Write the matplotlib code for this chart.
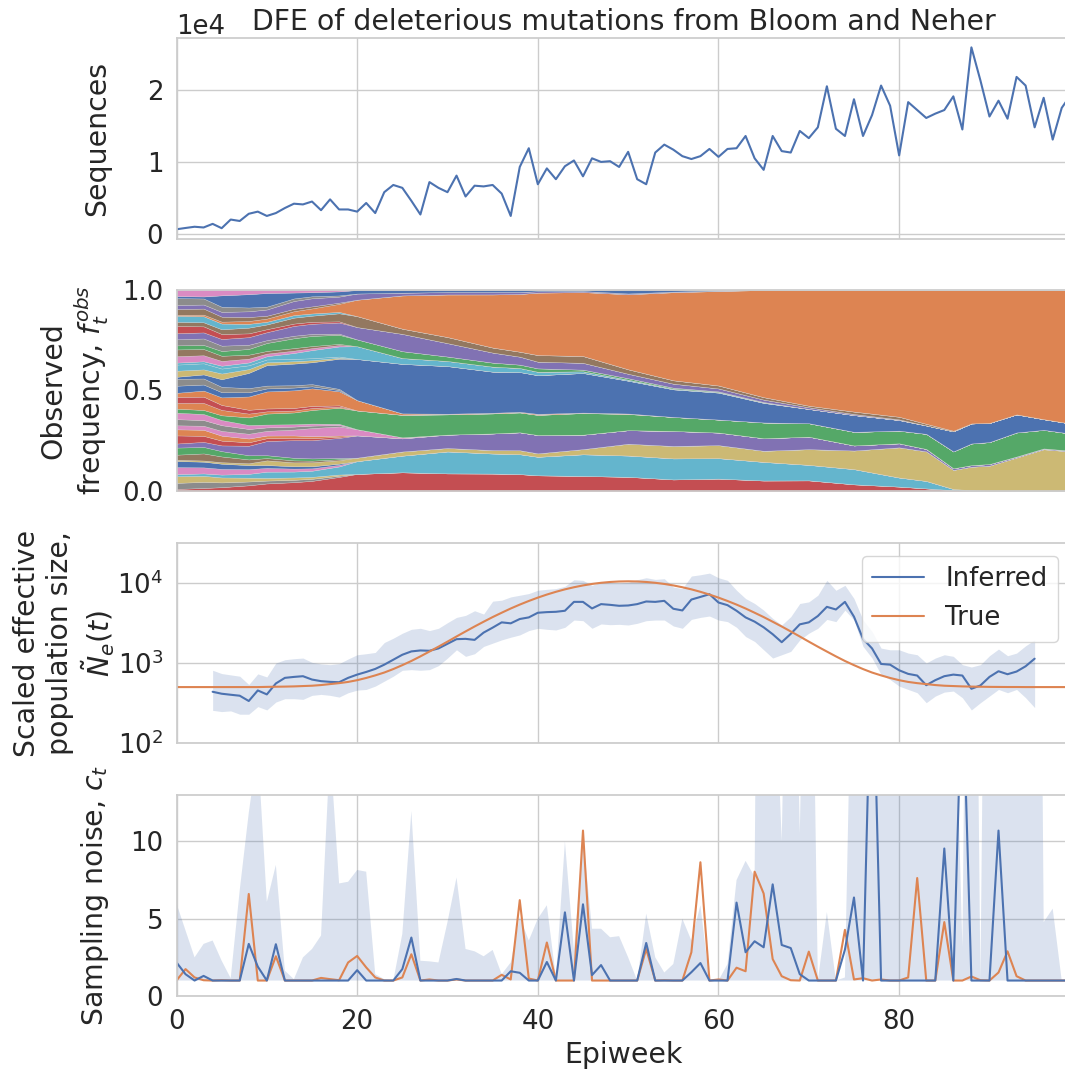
import numpy as np
import matplotlib
matplotlib.use("Agg")
import matplotlib.pyplot as plt
import seaborn as sns

sns.set_theme(style="whitegrid", font_scale=1.7)
plt.rcParams["font.family"] = ["DejaVu Sans"]

# ---------------- data ----------------
weeks = np.arange(100)

sequences = [650, 830, 1000, 900, 1400, 800, 2000, 1800, 2800, 3100,
             2500, 2900, 3600, 4200, 4100, 4500, 3300, 4800, 3400, 3400,
             3100, 4300, 2900, 5800, 6800, 6400, 4600, 2700, 7200, 6400,
             5800, 8100, 5200, 6700, 6600, 6800, 5600, 2500, 9300, 11900,
             6900, 9100, 7600, 9400, 10200, 8000, 10500, 10000, 10100, 9300,
             11400, 7600, 6900, 11300, 12400, 11700, 10800, 10400, 10800, 11800,
             10700, 11800, 11900, 13600, 10500, 8900, 13600, 11500, 11300, 14300,
             13300, 14800, 20500, 14600, 13600, 18700, 13600, 16500, 20600, 17800,
             10900, 18300, 17200, 16100, 16700, 17200, 19100, 14500, 25900, 21300,
             16300, 18500, 16000, 21800, 20600, 14800, 18900, 13100, 17500, 19300]

# lineage frequencies (sampled weeks), bottom to top
freq_weeks = [0, 3, 5, 8, 10, 13, 15, 18, 20, 25, 30, 35, 38, 40, 45, 50, 55, 60,
              65, 70, 75, 80, 83, 86, 88, 90, 93, 96, 99]
lin_red = [.01, .015, .02, .03, .04, .045, .05, .07, .083, .09, .087, .087, .085, .078, .073,
           .07, .058, .063, .052, .053, .033, .022, .013, .004, .002, .001, .002, .002, .002]
lin_cyan = [.01, .012, .015, .02, .033, .03, .03, .04, .062, .08, .108, .10, .10, .092, .105,
            .105, .105, .104, .092, .077, .075, .045, .037, .006, .002, 0, 0, 0, 0]
lin_olive = [.006, .006, .008, .01, .025, .02, .02, .017, .017, .02, .017, .017, .02, .017, .025,
             .058, .062, .066, .055, .078, .092, .15, .147, .095, .117, .125, .165, .205, .195]
lin_purple = [.02, .025, .03, .05, .075, .09, .09, .1, .108, .063, .066, .083, .09, .091, .07,
              .067, .075, .064, .062, .062, .025, .02, .012, .008, .008, .008, .005, .004, .004]
lin_pink = [.02, .02, .025, .025, .025, .03, .04, .045, .03, .005, 0, 0, 0, 0, 0,
            0, 0, 0, 0, 0, 0, 0, 0, 0, 0, 0, 0, 0, 0]
lin_green = [.02, .02, .025, .04, .058, .06, .067, .08, .091, .108, .10, .10, .10, .10, .105,
             .08, .07, .066, .078, .067, .067, .063, .075, .084, .108, .109, .12, .092, .085]
lin_orange2 = [.02, .03, .04, .07, .09, .09, .087, .07, .05, .007, .003, .003, .003, .005, .002,
               .002, 0, 0, 0, 0, 0, 0, 0, 0, 0, 0, 0, 0, 0]
lin_blue = [.01, .02, .04, .08, .108, .11, .108, .15, .20, .238, .235, .205, .20, .192, .192,
            .162, .138, .137, .097, .071, .083, .053, .042, .10, .10, .095, .09, .053, .05]
lin_cyan2 = [.01, .01, .015, .015, .017, .03, .04, .05, .062, .028, .025, .025, .02, .017, .008,
             .005, .003, .003, .002, 0, 0, 0, 0, 0, 0, 0, 0, 0, 0]
lin_green2 = [.02, .02, .025, .03, .042, .05, .05, .045, .033, .033, .022, .02, .017, .017, .008,
              .007, .005, .003, .002, 0, 0, 0, 0, 0, 0, 0, 0, 0, 0]
lin_purple2 = [.03, .03, .035, .04, .042, .05, .05, .055, .06, .083, .066, .05, .04, .033, .033,
               .022, .02, .015, .012, .008, .005, .003, 0, 0, 0, 0, 0, 0, 0]
lin_brown = [.02, .02, .025, .03, .025, .03, .03, .04, .053, .025, .03, .025, .025, .033, .033,
             .022, .017, .015, .012, .008, .012, .013, .008, .003, 0, 0, 0, 0, 0]
lin_orange = [.005, .008, .01, .015, .017, .02, .025, .04, .08, .16, .21, .265, .29, .31, .31,
              .37, .44, .48, .53, .575, .60, .63, .665, .70, .665, .66, .62, .64, .665]
lin_purple3 = [.02, .02, .025, .03, .033, .04, .04, .03, .03, .013, .012, .012, .01, .007, .005,
               .004, .003, .002, 0, 0, 0, 0, 0, 0, 0, 0, 0, 0, 0]
lin_blue3 = [.01, .01, .06, .07, .072, .03, .02, .02, .017, .013, .01, .01, .01, .006, .005,
             .017, .008, .003, 0, 0, 0, 0, 0, 0, 0, 0, 0, 0, 0]
# many small early lineages (weeks 0,3,5,8,10,13,15,18; absent afterwards)
minor_lineages = [
    [.03, .03, .025, .02, .015, .012, .01, .006],
    [.035, .03, .03, .025, .02, .015, .012, .008],
    [.025, .035, .03, .02, .012, .01, .008, .005],
    [.04, .03, .025, .018, .015, .012, .01, .006],
    [.03, .028, .03, .025, .018, .015, .012, .007],
    [.028, .035, .028, .02, .012, .01, .01, .006],
    [.035, .03, .027, .022, .016, .014, .01, .006],
    [.03, .025, .03, .02, .015, .012, .01, .005],
    [.032, .03, .025, .02, .014, .012, .01, .007],
    [.03, .032, .028, .022, .015, .013, .01, .006],
    [.036, .03, .026, .02, .016, .012, .01, .006],
    [.03, .03, .03, .02, .014, .013, .011, .007],
    [.028, .03, .026, .021, .015, .012, .01, .006],
    [.034, .03, .027, .02, .015, .013, .01, .006],
    [.03, .032, .028, .022, .016, .013, .011, .007],
    [.033, .03, .026, .02, .014, .012, .01, .006],
    [.03, .028, .027, .021, .015, .012, .01, .006],
    [.035, .032, .028, .022, .015, .013, .011, .006],
    [.03, .03, .026, .02, .014, .012, .01, .006],
    [.032, .03, .027, .021, .015, .012, .01, .006],
    [.03, .031, .026, .02, .015, .013, .01, .006],
    [.034, .03, .028, .022, .015, .012, .011, .006],
    [.03, .03, .026, .02, .015, .012, .01, .006],
    [.033, .031, .027, .021, .014, .013, .01, .006],
]

# effective population size
true_ne = [500, 500, 500, 500, 500, 500, 500, 500, 500, 500,
           503, 505, 507, 510, 515, 520, 530, 545, 560, 580,
           610, 650, 700, 760, 840, 940, 1060, 1210, 1390, 1600,
           1850, 2145, 2480, 2860, 3280, 3750, 4250, 4800, 5370, 5960,
           6565, 7170, 7760, 8330, 8850, 9325, 9730, 10060, 10300, 10450,
           10500, 10450, 10300, 10060, 9730, 9325, 8850, 8330, 7760, 7170,
           6565, 5960, 5370, 4800, 4250, 3750, 3280, 2860, 2480, 2145,
           1850, 1600, 1390, 1210, 1060, 940, 840, 760, 700, 650,
           610, 580, 560, 545, 530, 520, 515, 510, 507, 505,
           503, 502, 501, 501, 500, 500, 500, 500, 500, 500]
ne_weeks = np.arange(4, 96)
ne_inferred = [437, 413, 401, 390, 335, 454, 405, 555, 652, 670,
               684, 621, 593, 581, 575, 652, 716, 773, 843, 953,
               1099, 1268, 1396, 1435, 1422, 1521, 1738, 1986, 2004, 1945,
               2399, 2767, 3221, 3133, 3548, 3715, 4246, 4325, 4365, 4498,
               5808, 5808, 4808, 5445, 5333, 5188, 5236, 5445, 5875, 5808,
               5984, 4764, 4539, 6209, 6699, 7244, 5702, 5284, 4498, 3715,
               3289, 2793, 2291, 1820, 2312, 3041, 3221, 3864, 5035, 4667,
               5808, 3793, 2004, 1521, 973, 953, 811, 731, 697, 528,
               610, 684, 716, 697, 476, 524, 670, 789, 724, 782,
               910, 1132]
ne_upper = [811, 738, 710, 684, 538, 731, 670, 1000, 1099, 1132,
            1153, 1019, 973, 953, 982, 1122, 1268, 1306, 1355, 1803,
            2042, 2355, 2636, 2716, 2541, 2716, 3192, 3715, 3936, 4498,
            4093, 5929, 6095, 6699, 7031, 7379, 8110, 8337, 8511, 9099,
            10990, 10790, 9354, 10280, 10090, 10000, 10190, 10990, 11640, 11090,
            11320, 8913, 8511, 12220, 12680, 13300, 11640, 10790, 8110, 6397,
            5546, 4581, 3614, 2985, 3793, 5546, 5808, 7031, 10790, 8110,
            9354, 6397, 3443, 2472, 1535, 1462, 1462, 1330, 1268, 1000,
            1153, 1268, 1211, 953, 891, 953, 1233, 1493, 1233, 1330,
            1641, 1945]
ne_lower = [256, 247, 252, 229, 229, 285, 259, 325, 358, 358,
            351, 394, 405, 394, 375, 425, 458, 467, 514, 593,
            684, 811, 826, 811, 826, 927, 1153, 1462, 1211, 1306,
            1611, 1770, 1945, 2099, 2244, 2541, 2716, 2636, 2588, 2793,
            3443, 3381, 2716, 3076, 3013, 3041, 2985, 3133, 3381, 3443,
            3443, 2904, 2716, 3508, 3715, 3864, 3443, 3289, 2793, 2143,
            1858, 1462, 1153, 1268, 1396, 1945, 2355, 2716, 3508, 3289,
            4581, 3443, 1611, 1153, 716, 621, 514, 467, 425, 319,
            386, 433, 446, 368, 259, 319, 386, 467, 425, 467,
            368, 277]

# sampling noise
ct_inferred = [2.17, 1.41, 1, 1.3, 1, 1, 1, 1, 3.37, 1.9,
               1, 3.35, 1, 1, 1, 1, 1, 1, 1, 1,
               1.67, 1, 1, 1, 1, 1.74, 3.78, 1, 1, 1,
               1, 1.1, 1, 1, 1, 1, 1, 1.6, 1.5, 1,
               1, 2.2, 1, 5.41, 1, 5.93, 1.35, 2.0, 1, 1,
               1, 1, 3.43, 1, 1, 1, 1, 1.54, 2.13, 1,
               1, 1, 6.04, 2.83, 3.54, 3.15, 7.22, 3.3, 3.1, 1.41,
               1, 1, 1, 1, 3.0, 6.37, 1, 24, 1, 1,
               1, 1, 1, 1, 1, 9.54, 1, 21, 1, 1,
               1, 10.7, 1, 1, 1, 1, 1, 1, 1, 1]
ct_true = [1, 1.74, 1.2, 1.02, 1, 1.02, 1, 1, 6.6, 1,
           1, 2.57, 1, 1, 1, 1, 1.17, 1.09, 1.02, 2.17,
           2.59, 1.85, 1.2, 1, 1, 1.2, 2.7, 1, 1.07, 1,
           1, 1.07, 1, 1, 1, 1, 1.37, 1.07, 6.2, 1.13,
           1, 3.46, 1, 1, 1, 10.7, 1, 1, 1, 1,
           1, 1, 3.04, 1, 1.02, 1, 1, 2.83, 8.65, 1,
           1.07, 1, 1.83, 1.6, 8.04, 6.63, 2.39, 1.28, 1.02, 1,
           2.87, 1, 1, 1, 4.28, 1.07, 1.15, 1, 1.07, 1,
           1, 1.2, 7.63, 1, 1, 4.78, 1, 1, 1.26, 1.02,
           1, 1.52, 2.89, 1.28, 1, 1, 1, 1, 1, 1]
ct_upper = [5.98, 4.24, 2.5, 3.37, 3.59, 2.28, 1.15, 6.85, 11.85, 16,
            6.09, 8.48, 1.63, 1.09, 2.5, 3.04, 3.91, 16, 7.28, 7.39,
            8.15, 8.04, 1.41, 1.09, 1, 4.02, 11.96, 2.28, 2.24, 2.17,
            4.78, 7.67, 3.04, 2.89, 2.57, 2.98, 1.41, 2.17, 5.11, 3.59,
            5.0, 5.87, 1.2, 10.0, 2.93, 10.3, 4.35, 4.35, 3.8, 3.87,
            2.5, 1, 5.33, 2.5, 1.52, 2.07, 5.0, 3.59, 5.87, 1,
            1, 2.07, 7.5, 8.74, 7.72, 80, 25, 10.0, 40, 10.5,
            40, 1, 5.43, 1, 1.2, 30, 80, 80, 80, 80,
            80, 80, 80, 80, 80, 80, 25, 3.15, 60, 1,
            60, 80, 80, 80, 80, 80, 4.78, 5.65, 1, 1]
ct_lower = [1.0] * 100

# ---------------- figure ----------------
pal = sns.color_palette("deep")
C_BLUE, C_ORANGE, C_GREEN, C_RED, C_PURPLE, C_BROWN, C_PINK, C_GRAY, C_OLIVE, C_CYAN = pal

fig = plt.figure(figsize=(10.65, 10.72), dpi=100)
W, H = 1065.0, 1072.0
x0 = 176.5 / W
aw = 99 * 9.033 / W


def add_ax(top, bottom):
    return fig.add_axes([x0, 1 - bottom / H, aw, (bottom - top) / H])


ax1 = add_ax(38, 239)
ax2 = add_ax(290, 491)
ax3 = add_ax(543, 743)
ax4 = add_ax(795, 996)

# panel 1
ax1.plot(weeks, sequences, color=C_BLUE, lw=1.5)
ax1.set_ylim(-700, 27200)
ax1.set_yticks([0, 10000, 20000])
ax1.ticklabel_format(axis="y", style="sci", scilimits=(0, 0))
ax1.set_ylabel("Sequences")
ax1.set_title("DFE of deleterious mutations from Bloom and Neher")

# panel 2
fw = np.array(freq_weeks)
majors = [(lin_red, C_RED), (lin_cyan, C_CYAN), (lin_olive, C_OLIVE), (lin_purple, C_PURPLE),
          (lin_pink, C_PINK), (lin_green, C_GREEN), (lin_orange2, C_ORANGE), (lin_blue, C_BLUE),
          (lin_cyan2, C_CYAN), (lin_green2, C_GREEN), (lin_purple2, C_PURPLE), (lin_brown, C_BROWN),
          (lin_orange, C_ORANGE), (lin_purple3, C_PURPLE), (lin_blue3, C_BLUE)]
minor_cols = [C_GRAY, C_PINK, C_BROWN, C_RED, C_GRAY, C_ORANGE, C_BLUE, C_OLIVE, C_PINK,
              C_GRAY, C_RED, C_CYAN, C_BROWN, C_GRAY, C_PINK, C_OLIVE, C_BLUE, C_GREEN,
              C_ORANGE, C_PINK, C_RED, C_GRAY, C_CYAN, C_BROWN]
layers, cols = [], []
pad = [0.0] * (len(freq_weeks) - 8)
for i, (vals, c) in enumerate(majors):
    layers.append(np.array(vals, float))
    cols.append(c)
    for j in (i, i + 15):
        if j < len(minor_lineages):
            layers.append(np.array(minor_lineages[j] + pad, float))
            cols.append(minor_cols[j])
stack = np.vstack(layers)
stack = stack / stack.sum(axis=0, keepdims=True)
ax2.stackplot(fw, stack, colors=cols, linewidth=0.3, edgecolor=(0.85, 0.85, 0.85, 0.6))
ax2.set_ylim(0, 1)
ax2.set_yticks([0, 0.5, 1.0])
ax2.set_ylabel("Observed\nfrequency, $f_t^{obs}$")
ax2.grid(False)

# panel 3
ax3.fill_between(ne_weeks, ne_lower, ne_upper, color=C_BLUE, alpha=0.2, lw=0)
ax3.plot(ne_weeks, ne_inferred, color=C_BLUE, lw=1.5, label="Inferred")
ax3.plot(weeks, true_ne, color=C_ORANGE, lw=1.5, label="True")
ax3.set_yscale("log")
ax3.set_ylim(100, 10 ** 4.5)
ax3.set_yticks([100, 1000, 10000])
ax3.minorticks_off()
ax3.set_ylabel("Scaled effective\npopulation size,\n$\\tilde{N}_e(t)$")
ax3.legend(loc="upper right")

# panel 4
ax4.fill_between(weeks, ct_lower, ct_upper, color=C_BLUE, alpha=0.2, lw=0)
ax4.plot(weeks, ct_true, color=C_ORANGE, lw=1.5)
ax4.plot(weeks, ct_inferred, color=C_BLUE, lw=1.5)
ax4.set_ylim(0, 13)
ax4.set_yticks([0, 5, 10])
ax4.set_ylabel("Sampling noise, $c_t$")
ax4.set_xlabel("Epiweek")

for ax in (ax1, ax2, ax3, ax4):
    ax.set_xlim(0, 99)
    ax.set_xticks([0, 20, 40, 60, 80])
    ax.yaxis.set_label_coords(-0.073, 0.5)
ax3.yaxis.set_label_coords(-0.066, 0.5)
for ax in (ax1, ax2, ax3):
    ax.tick_params(labelbottom=False)

fig.savefig("out.png", dpi=100)
